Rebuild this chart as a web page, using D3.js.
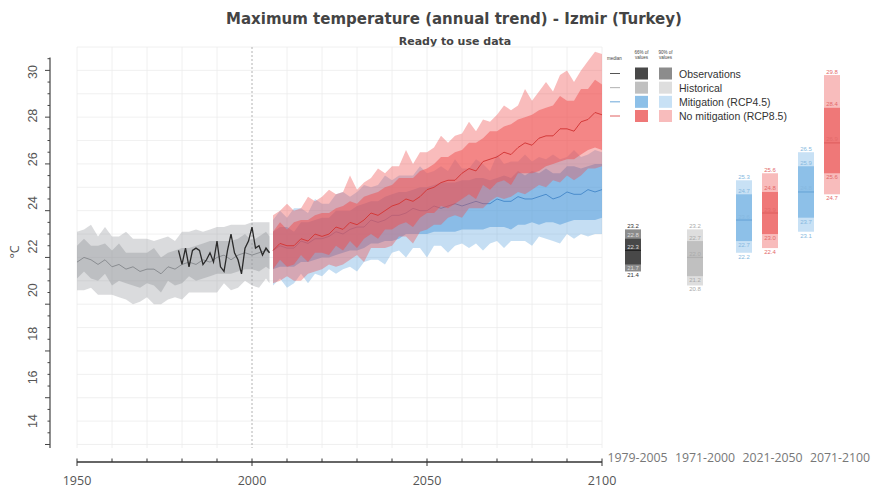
<!DOCTYPE html>
<html>
<head>
<meta charset="utf-8">
<script src="https://cdn.jsdelivr.net/npm/d3@7"></script>
<style>
  body { margin: 0; background: #fff; }
  svg { display: block; }
</style>
</head>
<body>
<svg id="chart" width="871" height="488"></svg>
<script>
// ---- data (°C) ----
const histYears = d3.range(1950, 2005, 2).concat([2005]);
const histMed  = [21.8, 22.0, 21.9, 21.7, 21.9, 21.6, 21.7, 21.5, 21.6, 21.4, 21.5, 21.5, 21.3, 21.6, 21.5, 21.7, 21.8, 21.7, 21.9, 21.8, 22.0, 22.1, 21.9, 22.1, 22.2, 22.1, 22.2, 22.3, 22.2];
const histHi66 = [22.5, 22.8, 22.5, 22.5, 22.6, 22.3, 22.6, 22.2, 22.2, 22.2, 22.2, 22.4, 22.0, 22.2, 22.3, 22.4, 22.4, 22.5, 22.6, 22.7, 22.7, 22.7, 22.7, 22.8, 23.0, 22.7, 22.9, 23.1, 22.9];
const histLo66 = [21.1, 21.4, 21.1, 21.0, 21.3, 20.8, 21.0, 20.9, 20.8, 20.7, 20.9, 20.8, 20.5, 21.0, 20.8, 20.9, 21.2, 21.0, 21.1, 21.2, 21.3, 21.3, 21.3, 21.4, 21.5, 21.5, 21.4, 21.6, 21.5];
const histHi90 = [23.1, 23.2, 23.4, 22.9, 23.3, 22.9, 22.9, 23.1, 22.8, 22.8, 22.8, 22.7, 22.8, 22.9, 22.7, 23.1, 23.1, 23.2, 23.1, 23.2, 23.3, 23.3, 23.4, 23.4, 23.4, 23.5, 23.5, 23.5, 23.5];
const histLo90 = [20.6, 20.6, 20.7, 20.4, 20.4, 20.4, 20.3, 20.2, 20.0, 20.1, 20.3, 20.0, 20.0, 20.2, 20.3, 20.2, 20.5, 20.5, 20.5, 20.5, 20.5, 20.9, 20.6, 20.7, 21.0, 20.8, 20.7, 21.1, 20.9];

const obsYears = d3.range(1979, 2006);
const obsVals  = [22.3, 21.7, 22.4, 21.6, 22.3, 22.4, 22.3, 21.7, 21.9, 22.2, 21.8, 22.7, 21.6, 21.4, 22.3, 23.0, 22.2, 21.9, 21.3, 22.4, 22.7, 23.3, 22.4, 22.5, 22.1, 22.4, 22.2];

const scenYears = d3.range(2006, 2101, 2);
const rcp45Med  = [22.3, 22.5, 22.4, 22.4, 22.7, 22.6, 22.8, 22.8, 22.9, 23.1, 23.0, 23.2, 23.3, 23.3, 23.6, 23.5, 23.6, 23.8, 23.8, 23.9, 24.1, 24.0, 24.0, 24.2, 24.1, 24.2, 24.3, 24.2, 24.3, 24.4, 24.3, 24.3, 24.5, 24.4, 24.4, 24.6, 24.5, 24.5, 24.6, 24.7, 24.5, 24.6, 24.8, 24.7, 24.7, 24.9, 24.8, 24.9];
const rcp45Hi66 = [23.1, 23.3, 23.3, 23.1, 23.5, 23.5, 23.6, 23.7, 23.7, 24.0, 24.0, 24.0, 24.2, 24.3, 24.4, 24.4, 24.6, 24.7, 24.8, 24.8, 24.9, 25.0, 25.0, 25.1, 25.2, 25.2, 25.2, 25.3, 25.3, 25.4, 25.4, 25.3, 25.4, 25.5, 25.4, 25.7, 25.5, 25.7, 25.6, 25.8, 25.6, 25.6, 25.9, 25.9, 25.8, 25.9, 26.0, 26.0];
const rcp45Lo66 = [21.5, 21.6, 21.6, 21.6, 21.8, 21.8, 21.9, 22.0, 22.0, 22.1, 22.2, 22.3, 22.3, 22.4, 22.6, 22.6, 22.7, 22.7, 22.8, 23.0, 23.0, 23.0, 23.0, 23.1, 23.1, 23.1, 23.1, 23.2, 23.2, 23.2, 23.2, 23.3, 23.3, 23.3, 23.2, 23.4, 23.4, 23.5, 23.4, 23.5, 23.5, 23.4, 23.5, 23.6, 23.6, 23.6, 23.6, 23.7];
const rcp45Hi90 = [23.6, 24.0, 23.7, 24.1, 24.1, 23.9, 24.5, 24.3, 24.3, 24.7, 24.8, 24.6, 24.8, 25.1, 25.0, 25.1, 25.5, 25.3, 25.5, 25.5, 25.5, 25.9, 25.6, 25.7, 25.9, 25.7, 26.2, 25.8, 25.8, 26.2, 26.0, 25.7, 26.4, 26.0, 26.1, 26.1, 26.4, 26.1, 26.3, 26.2, 26.4, 26.2, 26.3, 26.6, 26.3, 26.4, 26.6, 26.5];
const rcp45Lo90 = [20.8, 21.1, 20.7, 20.9, 21.3, 20.9, 21.3, 21.2, 21.5, 21.3, 21.5, 21.6, 21.4, 21.8, 21.9, 21.9, 21.7, 22.2, 22.3, 22.0, 22.4, 22.4, 22.0, 22.5, 22.5, 22.2, 22.5, 22.6, 22.4, 22.6, 22.3, 22.6, 22.7, 22.4, 22.7, 22.7, 22.7, 22.5, 22.9, 22.8, 22.7, 22.6, 23.0, 22.8, 23.0, 22.9, 23.0, 23.0];

const rcp85Med  = [22.3, 22.6, 22.5, 22.5, 22.8, 22.7, 23.0, 22.9, 23.0, 23.3, 23.2, 23.5, 23.4, 23.6, 23.9, 23.8, 24.0, 24.2, 24.3, 24.5, 24.4, 24.6, 24.9, 25.0, 25.2, 25.3, 25.3, 25.6, 25.8, 25.7, 26.1, 26.2, 26.3, 26.5, 26.4, 26.7, 26.9, 26.8, 27.1, 27.2, 27.2, 27.5, 27.5, 27.4, 27.8, 27.9, 28.2, 28.1];
const rcp85Hi66 = [23.1, 23.5, 23.2, 23.5, 23.6, 23.6, 23.8, 23.9, 23.9, 24.1, 24.2, 24.4, 24.3, 24.6, 24.7, 24.8, 25.0, 25.1, 25.4, 25.4, 25.4, 25.7, 25.8, 26.0, 26.3, 26.3, 26.5, 26.6, 26.9, 26.9, 27.1, 27.4, 27.4, 27.6, 27.7, 27.9, 28.0, 28.1, 28.3, 28.4, 28.5, 28.9, 28.7, 28.7, 29.2, 29.2, 29.6, 29.4];
const rcp85Lo66 = [21.5, 21.9, 21.6, 21.7, 22.1, 21.8, 22.2, 22.2, 22.1, 22.5, 22.3, 22.7, 22.4, 22.8, 23.0, 22.8, 23.2, 23.2, 23.4, 23.5, 23.3, 23.7, 23.9, 23.9, 24.2, 24.1, 24.3, 24.5, 24.7, 24.5, 25.1, 24.9, 25.2, 25.3, 25.1, 25.6, 25.6, 25.6, 25.7, 25.9, 26.0, 26.1, 26.2, 26.2, 26.4, 26.6, 26.7, 26.6];
const rcp85Hi90 = [23.8, 24.0, 24.3, 24.0, 24.1, 24.6, 24.4, 24.6, 24.9, 24.7, 24.8, 25.5, 24.9, 25.2, 25.4, 25.8, 25.6, 25.9, 25.9, 26.6, 26.0, 26.5, 26.5, 26.7, 27.2, 26.9, 27.2, 27.3, 27.8, 27.4, 27.9, 27.8, 28.1, 28.5, 28.3, 28.5, 29.2, 28.7, 29.1, 29.5, 29.1, 29.8, 30.0, 29.5, 30.0, 30.4, 30.8, 30.7];
const rcp85Lo90 = [20.9, 21.0, 21.2, 21.0, 21.0, 21.3, 21.4, 21.5, 21.7, 21.6, 21.7, 21.9, 22.1, 21.8, 22.4, 22.4, 22.4, 22.5, 22.9, 22.9, 22.6, 23.1, 23.2, 23.4, 23.4, 23.7, 23.8, 23.7, 24.1, 24.1, 24.1, 24.4, 24.6, 24.5, 24.6, 24.8, 24.7, 24.9, 25.1, 25.0, 25.3, 25.2, 25.5, 25.3, 25.5, 25.8, 25.8, 25.9];

// 30-year summary boxes
const periods   = ["1979-2005", "1971-2000", "2021-2050", "2071-2100"];
const boxSeries = ["obs", "hist", "rcp45", "rcp85", "rcp45", "rcp85"];
const boxPeriod = ["1979-2005", "1971-2000", "2021-2050", "2021-2050", "2071-2100", "2071-2100"];
const boxP5     = [21.4, 20.8, 22.2, 22.4, 23.1, 24.7];
const boxP17    = [21.7, 21.2, 22.7, 23.0, 23.7, 25.6];
const boxMed    = [22.3, 22.0, 23.6, 23.9, 24.8, 26.9];
const boxP83    = [22.8, 22.7, 24.7, 24.8, 25.9, 28.4];
const boxP95    = [23.2, 23.2, 25.3, 25.6, 26.5, 29.8];

const legendKeys  = ["obs", "hist", "rcp45", "rcp85"];
const legendNames = ["Observations", "Historical", "Mitigation (RCP4.5)", "No mitigation (RCP8.5)"];

const yTicks = d3.range(14, 31, 2);
const xTicks = [1950, 2000, 2050, 2100];

// ---- styles ----
const colors = {
  obs:   { p90: "#8c8c8c", p66: "#484848", med: "#555", txt: "#333" },
  hist:  { p90: "#dedede", p66: "#c0c0c0", med: "#b0b0b0", txt: "#aaa" },
  rcp45: { p90: "#c8e1f5", p66: "#8dc0e8", med: "#6aa6d8", txt: "#86b8e0" },
  rcp85: { p90: "#f8bcbc", p66: "#ef7878", med: "#e06060", txt: "#e46a6a" },
};

const svg = d3.select("#chart");

const x = d3.scaleLinear().domain([1950, 2100]).range([77, 602]);
const y = d3.scaleLinear().domain([13.85, 31]).range([448, 47]);
// the tick labels were laid over the picture with a slightly different spacing
const yLab = d3.scaleLinear().domain([14, 30]).range([421, 72]);

// title
svg.append("text")
  .attr("x", 454).attr("y", 24)
  .attr("text-anchor", "middle")
  .style("font-family", "DejaVu Sans").style("font-weight", "bold")
  .style("font-size", "15px").style("fill", "#444")
  .text("Maximum temperature (annual trend) - Izmir (Turkey)");

svg.append("text")
  .attr("x", 455).attr("y", 45)
  .attr("text-anchor", "middle")
  .style("font-family", "DejaVu Sans").style("font-weight", "bold")
  .style("font-size", "11px").style("fill", "#444")
  .text("Ready to use data");

// grid
const grid = svg.append("g");
grid.selectAll("line.h").data(d3.range(14, 32))
  .join("line")
  .attr("x1", x(1950)).attr("x2", x(2100))
  .attr("y1", d => y(d)).attr("y2", d => y(d))
  .attr("stroke", "#ececec").attr("stroke-width", 0.8);
grid.selectAll("line.v").data(d3.range(1950, 2101, 10))
  .join("line")
  .attr("x1", d => x(d)).attr("x2", d => x(d))
  .attr("y1", y(31)).attr("y2", 448)
  .attr("stroke", d => d === 2000 ? "#a0a0a0" : "#ececec")
  .attr("stroke-dasharray", d => d === 2000 ? "2,2" : null)
  .attr("stroke-width", 0.8);

// bands
function band(years, lo, hi) {
  return d3.area()
    .x((d, i) => x(years[i]))
    .y0((d, i) => y(lo[i]))
    .y1((d, i) => y(hi[i]))(years);
}
function medLine(years, vals) {
  return d3.line().x((d, i) => x(years[i])).y((d, i) => y(vals[i]))(years);
}

const plot = svg.append("g");
plot.append("path").attr("d", band(histYears, histLo90, histHi90)).attr("fill", "#96999e").attr("fill-opacity", 0.35);
plot.append("path").attr("d", band(histYears, histLo66, histHi66)).attr("fill", "#96999e").attr("fill-opacity", 0.42);
plot.append("path").attr("d", medLine(histYears, histMed)).attr("fill", "none").attr("stroke", "#8a8d91").attr("stroke-width", 1);

plot.append("path").attr("d", band(scenYears, rcp45Lo90, rcp45Hi90)).attr("fill", "#5aa0dc").attr("fill-opacity", 0.35);
plot.append("path").attr("d", band(scenYears, rcp45Lo66, rcp45Hi66)).attr("fill", "#5aa0dc").attr("fill-opacity", 0.55);
plot.append("path").attr("d", medLine(scenYears, rcp45Med)).attr("fill", "none").attr("stroke", "#4a8ccc").attr("stroke-width", 1);

plot.append("path").attr("d", band(scenYears, rcp85Lo90, rcp85Hi90)).attr("fill", "#f05050").attr("fill-opacity", 0.38);
plot.append("path").attr("d", band(scenYears, rcp85Lo66, rcp85Hi66)).attr("fill", "#f05050").attr("fill-opacity", 0.5);
plot.append("path").attr("d", medLine(scenYears, rcp85Med)).attr("fill", "none").attr("stroke", "#d43a3a").attr("stroke-width", 1);

plot.append("path").attr("d", medLine(obsYears, obsVals)).attr("fill", "none").attr("stroke", "#2a2a2a").attr("stroke-width", 1.3);

// y axis
const yAx = d3.scaleLinear().domain([13.85, 30.55]).range([y(13.85), y(30.55)]);
const gy = svg.append("g").attr("transform", "translate(50,0)");
gy.append("line").attr("y1", yAx.range()[0]).attr("y2", yAx.range()[1])
  .attr("stroke", "#444").attr("stroke-width", 1.2);
gy.selectAll("line.t").data(d3.range(14, 30.6, 0.5))
  .join("line")
  .attr("x1", d => d % 2 === 0 ? -5 : -2.5).attr("x2", 0)
  .attr("y1", d => y(d)).attr("y2", d => y(d))
  .attr("stroke", "#444").attr("stroke-width", 1);
gy.selectAll("text").data(yTicks)
  .join("text")
  .attr("transform", d => `translate(-13,${yLab(d)}) rotate(-90)`)
  .attr("text-anchor", "middle")
  .style("font-family", "Liberation Sans").style("font-size", "12.5px").style("fill", "#555")
  .text(d => d);
svg.append("text")
  .attr("transform", "translate(19,252) rotate(-90)")
  .attr("text-anchor", "middle")
  .style("font-family", "Open Sans").style("font-size", "12.5px").style("fill", "#555")
  .text("°C");

// x axis
const gx = svg.append("g").attr("transform", "translate(0,462)");
gx.append("line").attr("x1", x(1950)).attr("x2", x(2100))
  .attr("stroke", "#333").attr("stroke-width", 1.5);
gx.selectAll("line.t").data(d3.range(1950, 2101, 10))
  .join("line")
  .attr("x1", d => x(d)).attr("x2", d => x(d))
  .attr("y1", d => d % 50 === 0 ? 4 : 0).attr("y2", -3.5)
  .attr("stroke", "#333").attr("stroke-width", 1);
gx.selectAll("text").data(xTicks)
  .join("text")
  .attr("x", d => x(d)).attr("y", 23)
  .attr("text-anchor", "middle")
  .style("font-family", "Open Sans").style("font-size", "12.5px").style("fill", "#555")
  .text(d => d);

// right hand summary boxes
const boxX = d3.scalePoint().domain(periods).range([633, 819]);
const scenOff = { obs: 0, hist: 0, rcp45: -13, rcp85: 13 };
const labX = d3.scalePoint().domain(periods).range([637.5, 840]);

svg.append("g").selectAll("text").data(periods)
  .join("text")
  .attr("x", d => labX(d)).attr("y", 462)
  .attr("text-anchor", "middle")
  .style("font-family", "Open Sans").style("font-size", "12.3px").style("fill", "#777")
  .text(d => d);

const boxes = boxSeries.map((s, i) => ({
  s, period: boxPeriod[i], p5: boxP5[i], p17: boxP17[i], med: boxMed[i], p83: boxP83[i], p95: boxP95[i]
}));
const bw = 16;
const gb = svg.append("g").selectAll("g").data(boxes).join("g")
  .attr("transform", d => `translate(${boxX(d.period) + scenOff[d.s]},0)`);
gb.append("rect")
  .attr("x", -bw / 2).attr("width", bw)
  .attr("y", d => y(d.p95)).attr("height", d => y(d.p5) - y(d.p95))
  .attr("fill", d => colors[d.s].p90);
gb.append("rect")
  .attr("x", -bw / 2).attr("width", bw)
  .attr("y", d => y(d.p83)).attr("height", d => y(d.p17) - y(d.p83))
  .attr("fill", d => colors[d.s].p66);
gb.append("line")
  .attr("x1", -bw / 2).attr("x2", bw / 2)
  .attr("y1", d => y(d.med)).attr("y2", d => y(d.med))
  .attr("stroke", d => d.s === "obs" ? "#222" : colors[d.s].med).attr("stroke-width", 1.2);
["p95", "p83", "med", "p17", "p5"].forEach((k, j) => {
  gb.append("text")
    .attr("x", 0)
    .attr("y", d => j < 3 ? y(d[k]) - 1.5 : y(d[k]) + 6)
    .attr("text-anchor", "middle")
    .style("font-family", "Liberation Sans").style("font-size", "6px")
    .style("fill", d => (d.s === "obs" && j > 0 && j < 4) ? "#ddd" : colors[d.s].txt)
    .text(d => d[k].toFixed(1));
});

// legend
const lg = svg.append("g").style("font-family", "Liberation Sans");
const hdr = [["median", 614.5], ["66% of|values", 641.5], ["90% of|values", 665.5]];
hdr.forEach(([t, hx]) => {
  const parts = t.split("|");
  parts.forEach((p, k) => {
    lg.append("text").attr("x", hx).attr("y", parts.length === 1 ? 60 : 53.5 + k * 5)
      .attr("text-anchor", "middle").style("font-size", "4.5px").style("fill", "#444").text(p);
  });
});
const rowY = d3.scalePoint().domain(legendKeys).range([73.5, 116]);
const rows = lg.selectAll("g.row").data(legendKeys).join("g")
  .attr("transform", d => `translate(0,${rowY(d)})`);
rows.append("line").attr("x1", 610).attr("x2", 620)
  .attr("stroke", d => colors[d].med).attr("stroke-width", 1);
rows.append("rect").attr("x", 635).attr("y", -6).attr("width", 13).attr("height", 12)
  .attr("fill", d => colors[d].p66);
rows.append("rect").attr("x", 659).attr("y", -6).attr("width", 13).attr("height", 12)
  .attr("fill", d => colors[d].p90);
rows.append("text").attr("x", 679).attr("y", 4)
  .style("font-size", "10.5px").style("fill", "#333")
  .text((d, i) => legendNames[i]);
</script>
</body>
</html>
